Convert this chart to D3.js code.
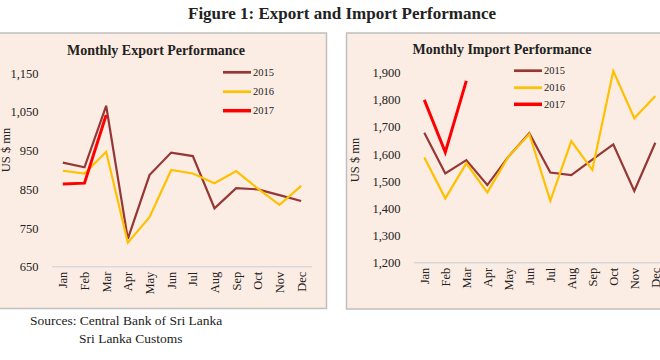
<!DOCTYPE html>
<html><head><meta charset="utf-8">
<script src="https://cdn.jsdelivr.net/npm/d3@7"></script>
<style>body{margin:0;background:#fff}svg{display:block}text{font-family:"Liberation Serif","Times New Roman",serif;fill:#222}</style>
</head><body><div id="c"></div>
<script>
const months = ["Jan","Feb","Mar","Apr","May","Jun","Jul","Aug","Sep","Oct","Nov","Dec"];
const seriesNames = ["2015","2016","2017"];
const seriesColors = ["#953735","#FFC000","#FF0000"];
const seriesWidths = [2.2,2.2,3];
const export2015 = [919,907,1066,722,887,945,936,801,853,850,835,820];
const export2016 = [898,891,947,712,778,900,891,866,897,852,810,859];
const export2017 = [864,866,1042];
const import2015 = [1679,1529,1578,1486,1590,1677,1532,1523,1580,1636,1464,1642];
const import2016 = [1588,1437,1566,1459,1590,1674,1428,1648,1542,1906,1732,1814];
const import2017 = [1800,1607,1870];
const exportTicks = [650,750,850,950,1050,1150];
const importTicks = [1200,1300,1400,1500,1600,1700,1800,1900];

const svg = d3.select("#c").append("svg").attr("width",660).attr("height",360);

svg.append("text").attr("x",342).attr("y",19).attr("text-anchor","middle")
  .style("font-size","17px").style("font-weight","bold").text("Figure 1: Export and Import Performance");

function panel(cfg){
  const g = svg.append("g");
  g.append("rect").attr("x",cfg.box[0]).attr("y",cfg.box[1]).attr("width",cfg.box[2]).attr("height",cfg.box[3])
    .attr("fill","#FCEDE4").attr("stroke","#BFBFBF").attr("stroke-width",1.5);
  g.append("text").attr("x",cfg.titleX).attr("y",cfg.titleY).attr("text-anchor","middle")
    .style("font-size","14px").style("font-weight","bold").text(cfg.title);
  const x = d3.scaleBand().domain(months).range(cfg.xr);
  const y = d3.scaleLinear().domain(cfg.yd).range(cfg.yr);
  g.append("line").attr("x1",cfg.xr[0]).attr("x2",cfg.xr[1]).attr("y1",y(cfg.yd[0])).attr("y2",y(cfg.yd[0]))
    .attr("stroke","#D9D9D9").attr("stroke-width",1.5);
  const ya = d3.axisLeft(y).tickValues(cfg.ticks).tickFormat(d3.format(",")).tickSize(0).tickPadding(0);
  const yg = g.append("g").attr("transform",`translate(${cfg.yLabelX},0)`).call(ya);
  yg.select(".domain").remove();
  yg.selectAll("text").style("font-size","12.5px").style("font-family","Liberation Serif, serif").attr("fill","#333");
  const xa = d3.axisBottom(x).tickSize(0).tickPadding(0);
  const xg = g.append("g").attr("transform",`translate(0,${y(cfg.yd[0])})`).call(xa);
  xg.select(".domain").remove();
  xg.selectAll("text").style("font-size","12.5px").style("font-family","Liberation Serif, serif").attr("fill","#333")
    .attr("transform","rotate(-90)").attr("text-anchor","end").attr("x",-5).attr("y",0).attr("dy","0.35em");
  g.append("text").attr("transform",`translate(${cfg.ytX},${cfg.ytY}) rotate(-90)`).attr("text-anchor","middle")
    .style("font-size","12.5px").attr("fill","#333").text("US $ mn");
  const line = d3.line().x((d,i)=>x(months[i])+x.bandwidth()/2).y(d=>y(d));
  cfg.data.forEach((arr,k)=>{
    g.append("path").attr("d",line(arr)).attr("fill","none").attr("stroke",seriesColors[k])
      .attr("stroke-width",seriesWidths[k]).attr("stroke-linejoin","miter");
  });
  seriesNames.forEach((n,k)=>{
    const ly = cfg.legY[k];
    g.append("line").attr("x1",cfg.legX).attr("x2",cfg.legX+28).attr("y1",ly).attr("y2",ly)
      .attr("stroke",seriesColors[k]).attr("stroke-width",seriesWidths[k]+0.5);
    g.append("text").attr("x",cfg.legX+30).attr("y",ly).attr("dy","0.35em").style("font-size","10.5px").text(n);
  });
}

panel({box:[-2,33,328.5,275.5], title:"Monthly Export Performance", titleX:156, titleY:55,
  xr:[52,312], yd:[650,1150], yr:[266.7,73.3], ticks:exportTicks, yLabelX:38.5, ytX:9.5, ytY:150,
  data:[export2015,export2016,export2017], legX:223, legY:[72.3,91.7,110.7]});
panel({box:[346.5,33,320,276], title:"Monthly Import Performance", titleX:502, titleY:54,
  xr:[413.8,665.8], yd:[1200,1900], yr:[262.7,72.7], ticks:importTicks, yLabelX:400.5, ytX:359, ytY:160,
  data:[import2015,import2016,import2017], legX:514, legY:[70.7,87.7,104.3]});

svg.append("text").attr("x",30).attr("y",325).style("font-size","13.5px").text("Sources: Central Bank of Sri Lanka");
svg.append("text").attr("x",79).attr("y",343).style("font-size","13.5px").text("Sri Lanka Customs");
</script></body></html>
